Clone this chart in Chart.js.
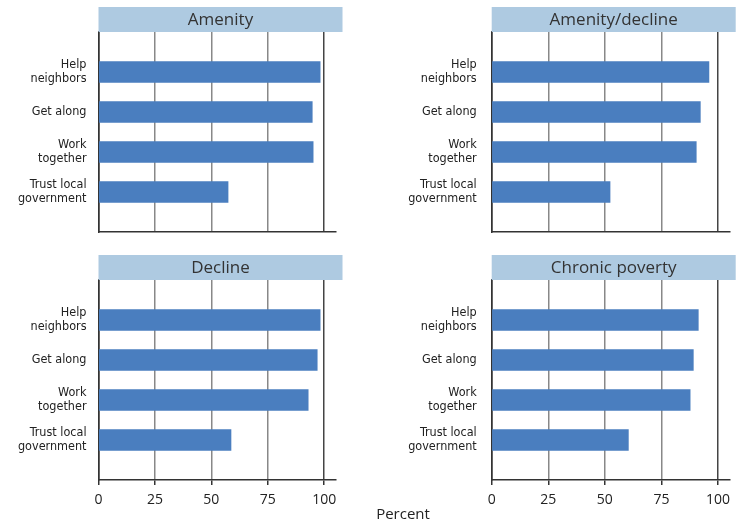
<!DOCTYPE html>
<html>
<head>
<meta charset="utf-8">
<script src="https://cdn.jsdelivr.net/npm/chart.js@4.4.0/dist/chart.umd.min.js"></script>
<style>
  body { margin: 0; background: #fff; }
  #wrap { position: relative; width: 743px; height: 524px; }
  .panel { position: absolute; }
  #percent { position: absolute; left: 350px; width: 106px; top: 503px; text-align: center;
             font: 15px 'Open Sans', sans-serif; color: #222; }
</style>
</head>
<body>
<div id="wrap">
  <div class="panel" style="left:0;top:0;width:372px;height:240px"><canvas id="amenity"></canvas></div>
  <div class="panel" style="left:372px;top:0;width:371px;height:240px"><canvas id="amenityDecline"></canvas></div>
  <div class="panel" style="left:0;top:248px;width:372px;height:276px"><canvas id="decline"></canvas></div>
  <div class="panel" style="left:372px;top:248px;width:371px;height:276px"><canvas id="chronicPoverty"></canvas></div>
  <div id="percent">Percent</div>
</div>
<script>
// blank first/last slots keep the empty band above and below the bars
const questions = ['', ['Help', 'neighbors'], 'Get along', ['Work', 'together'], ['Trust local', 'government'], ''];
const percentTicks = [0, 25, 50, 75, 100];

const amenity = [null, 98.2, 94.7, 95.1, 57.4, null];
const amenityDecline = [null, 96.0, 92.2, 90.4, 52.3, null];
const decline = [null, 98.2, 96.9, 92.9, 58.7, null];
const chronicPoverty = [null, 91.3, 89.1, 87.7, 60.4, null];

const labelFont = "'DejaVu Sans Condensed', 'Liberation Sans Narrow', sans-serif";

// light blue header bar above each plot
const headerBar = {
    id: 'headerBar',
    afterDraw(chart, args, opts) {
        const ctx = chart.ctx;
        const area = chart.chartArea;
        ctx.save();
        ctx.fillStyle = '#aecae1';
        ctx.fillRect(area.left, area.top - 25, 244, 25);
        ctx.fillStyle = '#333';
        ctx.font = "17px 'Open Sans', sans-serif";
        ctx.textAlign = 'center';
        ctx.textBaseline = 'middle';
        ctx.fillText(opts.text, area.left + 122, area.top - 12);
        ctx.restore();
    }
};

function gridColor(c)
{
    if (c.tick && c.tick.value === 0) return '#333';
    if (c.tick && c.tick.value === 100) return '#444';
    return '#888';
}

function showPanel(id, title, values, axisWidth, labelGap, padRight, bottomRow)
{
    const ctx = document.getElementById(id).getContext('2d');

    new Chart(ctx, {
        type: 'bar',
        data: {
            labels: questions,
            datasets: [{
                data: values,
                backgroundColor: '#4a7ebf',
                barThickness: 21
            }]
        },
        plugins: [headerBar],
        options: {
            indexAxis: 'y',
            responsive: true,
            maintainAspectRatio: false,
            animation: false,
            layout: { padding: { top: 32, right: padRight, left: 0, bottom: 0 } },
            plugins: {
                legend: { display: false },
                tooltip: { enabled: false },
                headerBar: { text: title }
            },
            scales: {
                y: {
                    offset: false,
                    afterFit: function(s) {
                        s.width = axisWidth;
                        s.paddingTop = 0;
                        s.paddingBottom = 0;
                    },
                    grid: { display: false, drawTicks: false },
                    border: { display: true, color: '#333', width: 1.5 },
                    ticks: {
                        autoSkip: false,
                        padding: labelGap,
                        color: '#222',
                        font: { family: labelFont, size: 12.5, lineHeight: 1.12 }
                    }
                },
                x: {
                    min: 0,
                    max: 105,
                    afterFit: function(s) {
                        s.height = bottomRow ? 44 : 8;
                        s.paddingLeft = 0;
                        s.paddingRight = 0;
                    },
                    afterBuildTicks: function(s) {
                        s.ticks = percentTicks.map(v => ({ value: v }));
                    },
                    border: { display: true, color: '#333', width: 1.5 },
                    grid: {
                        color: gridColor,
                        lineWidth: 1.5,
                        drawTicks: bottomRow,
                        tickLength: 5,
                        tickColor: '#333'
                    },
                    ticks: {
                        display: bottomRow,
                        padding: 7,
                        color: '#222',
                        font: { family: "'Open Sans', sans-serif", size: 14 }
                    }
                }
            }
        }
    });
}

showPanel('amenity', 'Amenity', amenity, 98.5, 12, 36.5, false);
showPanel('amenityDecline', 'Amenity/decline', amenityDecline, 119.7, 15, 13.7, false);
showPanel('decline', 'Decline', decline, 98.5, 12, 36.5, true);
showPanel('chronicPoverty', 'Chronic poverty', chronicPoverty, 119.7, 15, 13.7, true);
</script>
</body>
</html>
